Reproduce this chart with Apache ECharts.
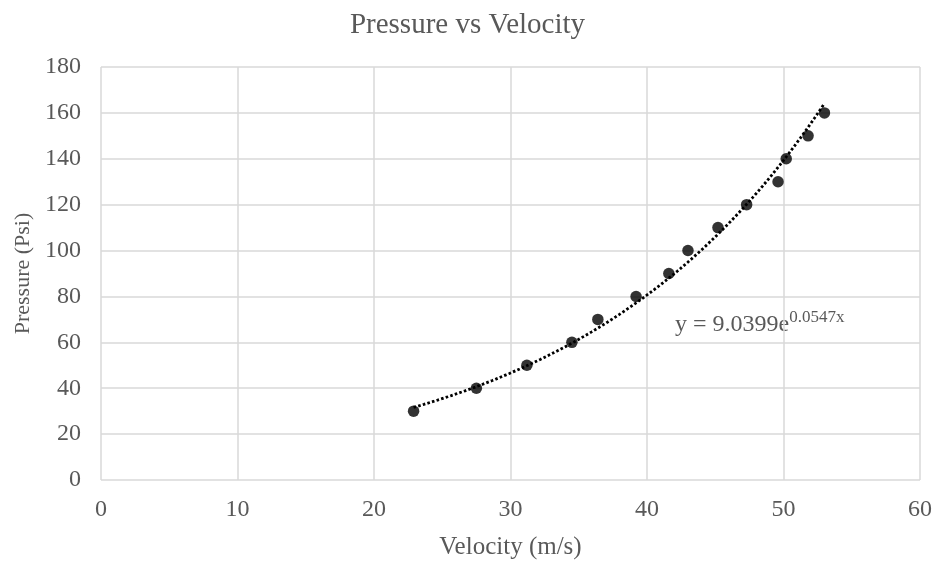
<!DOCTYPE html>
<html>
<head>
<meta charset="utf-8">
<script src="https://cdn.jsdelivr.net/npm/echarts@6/dist/echarts.min.js"></script>
<style>
html,body{margin:0;padding:0;background:#fff;}
#chart{width:935px;height:561px;}
</style>
</head>
<body>
<div id="chart"></div>
<script>
// Data
var velocity = [22.9, 27.5, 31.2, 34.5, 36.4, 39.2, 41.6, 43.0, 45.2, 47.3, 49.6, 50.2, 51.8, 53.0];
var pressure = [30, 40, 50, 60, 70, 80, 90, 100, 110, 120, 130, 140, 150, 160];
// Exponential trendline coefficients as printed on the chart
var trendA = 9.0399;
var trendB = 0.0547;
var xTicks = [0, 10, 20, 30, 40, 50, 60];
var yTicks = [0, 20, 40, 60, 80, 100, 120, 140, 160, 180];

var points = velocity.map(function (v, i) { return [v, pressure[i]]; });
var xMin = Math.min.apply(null, velocity), xMax = Math.max.apply(null, velocity);
var trend = [];
var steps = 120;
for (var i = 0; i <= steps; i++) {
  var x = xMin + (xMax - xMin) * i / steps;
  trend.push([x, trendA * Math.exp(trendB * x)]);
}

var font = '"Liberation Serif", "Times New Roman", serif';
var grey = '#595959';
var chart = echarts.init(document.getElementById('chart'), null, {renderer: 'canvas'});
chart.setOption({
  animation: false,
  backgroundColor: '#ffffff',
  title: {
    text: 'Pressure vs Velocity',
    left: 'center',
    top: 6,
    textStyle: {fontFamily: font, fontSize: 29, fontWeight: 'normal', color: grey}
  },
  grid: {left: 101, right: 15, top: 67, bottom: 81, containLabel: false, outerBoundsMode: 'none'},
  xAxis: {
    type: 'value',
    min: xTicks[0], max: xTicks[xTicks.length - 1], interval: 10,
    name: 'Velocity (m/s)',
    nameLocation: 'middle',
    nameGap: 55,
    nameTextStyle: {fontFamily: font, fontSize: 25, color: grey},
    axisLine: {show: false},
    axisTick: {show: false},
    axisLabel: {fontFamily: font, fontSize: 24, color: grey, margin: 18},
    splitLine: {show: true, lineStyle: {color: '#d9d9d9', width: 1.5}}
  },
  yAxis: {
    type: 'value',
    min: yTicks[0], max: yTicks[yTicks.length - 1], interval: 20,
    name: 'Pressure (Psi)',
    nameLocation: 'middle',
    nameGap: 67,
    nameTextStyle: {fontFamily: font, fontSize: 22, color: grey},
    axisLine: {show: false},
    axisTick: {show: false},
    axisLabel: {fontFamily: font, fontSize: 24, color: grey, margin: 20},
    splitLine: {show: true, lineStyle: {color: '#d9d9d9', width: 1.5}}
  },
  series: [
    {
      type: 'line',
      data: trend,
      showSymbol: false,
      symbol: 'none',
      smooth: false,
      lineStyle: {color: '#000', width: 2.8, type: [2.6, 2.2]},
      z: 2
    },
    {
      type: 'scatter',
      data: points,
      symbol: 'circle',
      symbolSize: 11.5,
      itemStyle: {color: '#000'},
      z: 3
    }
  ],
  graphic: [{
    type: 'text',
    left: 675,
    top: 309,
    style: {
      text: '{b|y = 9.0399e}{s|0.0547x}',
      rich: {
        b: {fontFamily: font, fontSize: 24, fill: grey, verticalAlign: 'bottom', lineHeight: 28},
        s: {fontFamily: font, fontSize: 17, fill: grey, verticalAlign: 'top', lineHeight: 28, padding: [0, 0, 12, 0]}
      }
    }
  }]
});
</script>
</body>
</html>
